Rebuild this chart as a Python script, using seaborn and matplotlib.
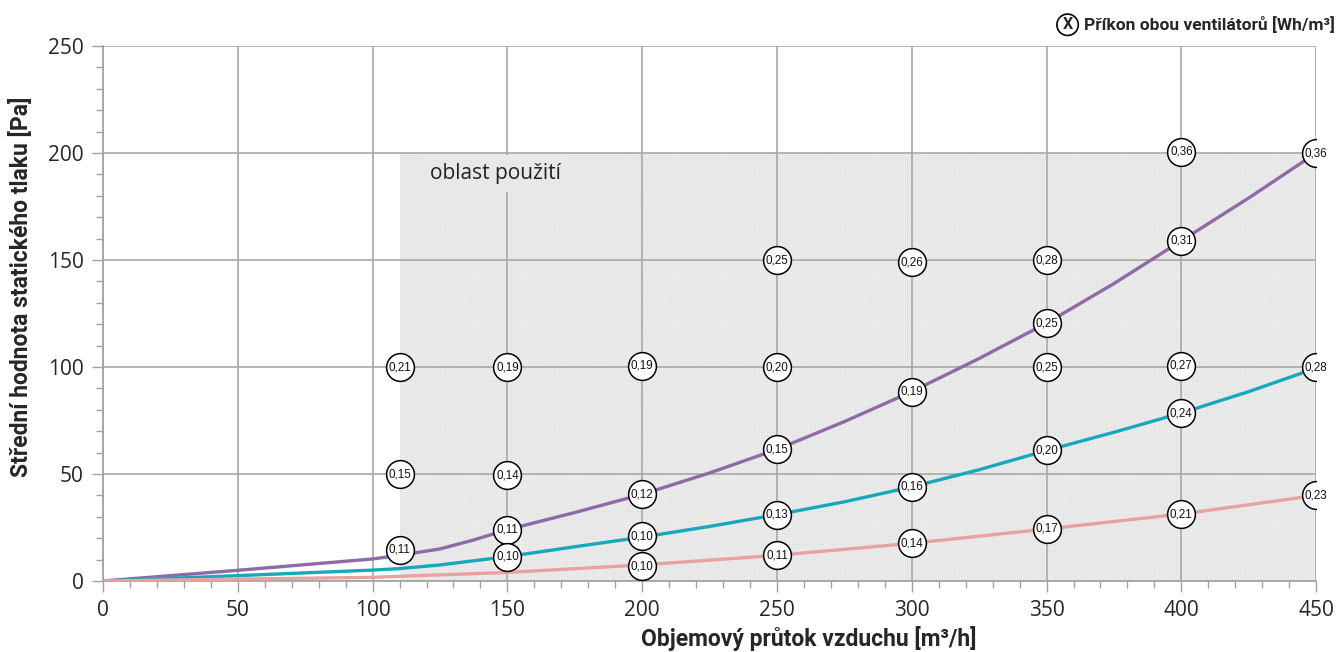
import numpy as np
import pandas as pd
import seaborn as sns
import matplotlib.pyplot as plt
from matplotlib.patches import Rectangle

# curves: airflow [m3/h] -> static pressure [Pa]
flow_a = [0, 50, 100, 110, 125, 137, 150, 175, 200, 225, 250, 275, 300, 325, 350, 375, 400, 425, 450]
pres_a = [0, 5, 10.3, 12, 15, 19, 24, 32, 40.5, 50.5, 61.5, 74.5, 88.5, 104, 120.5, 139, 159, 179, 200]

flow_b = [0, 50, 100, 110, 125, 150, 175, 200, 225, 250, 275, 300, 325, 350, 375, 400, 425, 450]
pres_b = [0, 2.5, 5.1, 5.8, 7.5, 11.4, 16, 20.5, 25.5, 31, 37, 44, 52, 61, 69.5, 78.5, 88.5, 99.5]

flow_c = [0, 50, 100, 110, 150, 200, 250, 300, 350, 400, 450]
pres_c = [0, 0.9, 1.7, 2.2, 4, 7.5, 12, 17.6, 24.3, 31.3, 40]

# power labels (circle markers) [Wh/m3]
lab_x = [110, 150, 200, 250, 350, 400, 110, 150, 250, 300, 350, 400,
         110, 150, 200, 250, 300, 350, 400, 450,
         150, 200, 250, 300, 350, 400, 450,
         200, 250, 300, 350, 400, 450]
lab_y = [100, 100, 100.5, 100, 100, 100.5, 50, 49.5, 150, 149, 150, 200.5,
         14.5, 24, 40.5, 61.5, 88.5, 120.5, 159, 200,
         11.4, 21, 31, 44, 61, 78.5, 100,
         7, 12, 17.6, 24.3, 31.3, 40]
lab_t = ["0,21", "0,19", "0,19", "0,20", "0,25", "0,27", "0,15", "0,14", "0,25", "0,26", "0,28", "0,36",
         "0,11", "0,11", "0,12", "0,15", "0,19", "0,25", "0,31", "0,36",
         "0,10", "0,10", "0,13", "0,16", "0,20", "0,24", "0,28",
         "0,10", "0,11", "0,14", "0,17", "0,21", "0,23"]

area_x = [110, 450]
area_y = [0, 200]

df = pd.concat([
    pd.DataFrame({"q": flow_a, "p": pres_a, "s": "a"}),
    pd.DataFrame({"q": flow_b, "p": pres_b, "s": "b"}),
    pd.DataFrame({"q": flow_c, "p": pres_c, "s": "c"}),
])
labels = pd.DataFrame({"q": lab_x, "p": lab_y, "t": lab_t})

sns.set_theme(style="white")
plt.rcParams["font.family"] = ["Open Sans", "DejaVu Sans"]
plt.rcParams["hatch.linewidth"] = 0.3

fig = plt.figure(figsize=(13.4, 6.52), dpi=100)
ax = fig.add_axes([0.0769, 0.1089, 0.9053, 0.8205])

# application area
ax.add_patch(Rectangle((area_x[0], area_y[0]), area_x[1] - area_x[0], area_y[1] - area_y[0],
                       facecolor="#f0f0f0", edgecolor="#dedede", linewidth=0, hatch="+" * 8, zorder=1))
ax.text(145.5, 190.5, "oblast použití", ha="center", va="center", fontsize=15, color="#222222",
        bbox=dict(boxstyle="square,pad=0.4", facecolor="#e8e8e8", edgecolor="none"), zorder=4)

sns.lineplot(data=df, x="q", y="p", hue="s", palette=["#8f6aa8", "#17a9bb", "#e8a2a2"],
             linewidth=2.4, legend=False, ax=ax, zorder=3)

sns.scatterplot(data=labels, x="q", y="p", s=400, color="white", edgecolor="black",
                linewidth=1.1, ax=ax, zorder=5, legend=False)
for q, p, t in zip(lab_x, lab_y, lab_t):
    ax.text(q, p, t, ha="center", va="center", fontsize=8.4, color="#111111",
            family=["Liberation Sans", "DejaVu Sans"], zorder=6)

ax.set_xlim(0, 450)
ax.set_ylim(0, 250)
ax.set_xticks(np.arange(0, 451, 50))
ax.set_yticks(np.arange(0, 251, 50))
ax.set_xticks(np.arange(0, 451, 10), minor=True)
ax.set_yticks(np.arange(0, 251, 10), minor=True)
ax.grid(True, which="major", color="#a8a8a8", linewidth=1.2)
ax.set_axisbelow("line")
ax.tick_params(axis="both", which="major", direction="out", length=8, width=1, color="#a0a0a0",
               labelsize=15, pad=6, bottom=True, left=True)
ax.tick_params(axis="both", which="minor", direction="out", length=5, width=1, color="#a0a0a0",
               bottom=True, left=True)
for s in ["top", "right"]:
    ax.spines[s].set_visible(False)
for s in ["left", "bottom"]:
    ax.spines[s].set_color("#a0a0a0")
    ax.spines[s].set_linewidth(1.2)

ax.set_xlabel("Objemový průtok vzduchu [m³/h]", fontsize=16.5, fontweight="bold",
              family=["Roboto", "DejaVu Sans"])
ax.set_ylabel("Střední hodnota statického tlaku [Pa]", fontsize=16.5, fontweight="bold",
              family=["Roboto", "DejaVu Sans"])
ax.xaxis.set_label_coords(0.582, -0.085)
ax.yaxis.set_label_coords(-0.058, 0.55)

# legend note in the top right corner
note = fig.text(0.996, 0.962, "Příkon obou ventilátorů [Wh/m³]", ha="right", va="center", fontsize=12.5,
                fontweight="bold", family=["Roboto", "DejaVu Sans"])
fig.canvas.draw()
ax.annotate("X", xy=(0, 0.5), xycoords=note, xytext=(-8, 0), textcoords="offset points",
            ha="right", va="center", fontsize=11.5, fontweight="bold", family=["Roboto", "DejaVu Sans"],
            bbox=dict(boxstyle="circle,pad=0.2", facecolor="white", edgecolor="black", linewidth=1.2),
            annotation_clip=False)

fig.savefig("out.png", dpi=100)
